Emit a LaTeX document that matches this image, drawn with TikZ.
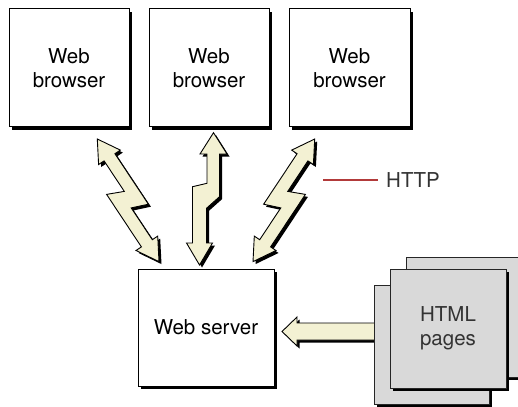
\documentclass[tikz,border=0pt]{standalone}
\usepackage{fontspec}
\setmainfont{TeX Gyre Heros}
\usetikzlibrary{shadows}
\definecolor{cream}{HTML}{F3F1D3}
\definecolor{pagegray}{HTML}{D9D9D9}
\definecolor{httpred}{HTML}{B23A3A}
\definecolor{txtgray}{HTML}{333333}
\begin{document}
\begin{tikzpicture}[x=1pt,y=-1pt,
  box/.style={draw=black, fill=white, line width=1pt, align=center, inner sep=0pt,
    font=\fontsize{20.5}{24}\selectfont,
    general shadow={fill=black, shadow xshift=3pt, shadow yshift=-3pt}},
  pagebox/.style={draw=black!85, fill=pagegray, line width=1pt, align=center, inner sep=0pt,
    text=txtgray, font=\fontsize{20.5}{24}\selectfont,
    general shadow={fill=black, shadow xshift=3pt, shadow yshift=-3pt}},
  bolt/.style={fill=cream, draw=black, line width=0.9pt},
  boltshade/.style={fill=black}]
\useasboundingbox (0,0) rectangle (518,406);

% browsers and server
\node[box, minimum width=120pt, minimum height=118pt] (b1) at (69,68) {Web\\browser};
\node[box, minimum width=120pt, minimum height=118pt] (b2) at (209,68) {Web\\browser};
\node[box, minimum width=121pt, minimum height=118pt] (b3) at (349.5,68) {Web\\browser};
\node[box, minimum width=136pt, minimum height=117pt] (srv) at (206,327.5) {Web server};

% lightning arrows
\def\boltone{(97.3,139) -- (120.3,150.1) -- (114.9,153.7) -- (148.4,204.2) -- (131.2,207.9)
  -- (152.3,239.7) -- (157.7,236.1) -- (159.0,261.6) -- (136.0,250.5) -- (141.4,246.9)
  -- (106.6,194.4) -- (124.3,191.4) -- (104.1,160.9) -- (98.6,164.5) -- cycle}
\def\bolttwo{(213.5,132.7) -- (227,154) -- (219.5,154) -- (219.5,196.7) -- (206.5,208.3)
  -- (206.5,243) -- (212.5,243) -- (199.5,265) -- (186.5,243) -- (192.5,243)
  -- (192.5,186.7) -- (207,183.3) -- (207,154) -- (200,154) -- cycle}
\fill[boltshade, shift={(2.5,2.5)}] \boltone;
\filldraw[bolt] \boltone;
\fill[boltshade, shift={(2.5,2.5)}] \bolttwo;
\filldraw[bolt] \bolttwo;
\begin{scope}[shift={(412,0)}, xscale=-1]
  \fill[boltshade, shift={(-2.5,2.5)}] \boltone;
  \filldraw[bolt] \boltone;
\end{scope}

% HTTP label
\node[anchor=west, inner sep=0pt, text=txtgray, font=\fontsize{20.5}{24}\selectfont] (http) at (386,180) {HTTP};
\coordinate (hl) at (323,180);
\draw[httpred, line width=1.2pt] (hl) -- ([xshift=-8pt]http.west);

% arrow from pages to server
\def\parrow{(282,331.5) -- (297,317) -- (297,323) -- (380,323) -- (380,340) -- (297,340) -- (297,346) -- cycle}
\fill[boltshade, shift={(2.5,2.5)}] \parrow;
\filldraw[bolt] \parrow;

% HTML pages
\node[pagebox, minimum width=114pt, minimum height=120pt] (pback) at (463,317) {};
\node[pagebox, minimum width=115pt, minimum height=119pt] (pbot) at (431.5,344.5) {};
\node[pagebox, minimum width=116pt, minimum height=119pt] (pfront) at (448,328.5) {HTML\\pages};
\end{tikzpicture}
\end{document}
